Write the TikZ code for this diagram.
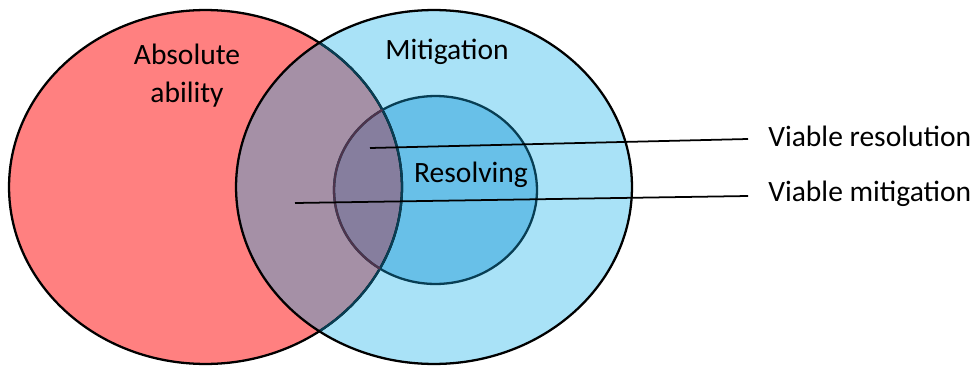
\documentclass[tikz,border=0pt]{standalone}
\usepackage{fontspec}
\setmainfont{Carlito}
\definecolor{absred}{RGB}{255,128,128}
\definecolor{mitblue}{RGB}{169,226,247}
\definecolor{resblue}{RGB}{104,192,232}
\definecolor{mixmit}{RGB}{165,144,166}
\definecolor{mixres}{RGB}{134,126,158}
\definecolor{rimteal}{RGB}{8,62,84}
\definecolor{rimplum}{RGB}{78,52,76}

\begin{document}
\begin{tikzpicture}[x=0.02cm,y=-0.02cm,
    lbl/.style={font=\fontsize{16.8}{21.5}\selectfont, inner sep=0pt},
    rim/.style={line width=1.3pt},
    pointer/.style={line width=1pt},
    absE/.style={insert path={(absC) ellipse [x radius=3.93cm, y radius=3.54cm]}},
    mitE/.style={insert path={(mitC) ellipse [x radius=3.96cm, y radius=3.54cm]}},
    resE/.style={insert path={(resC) ellipse [x radius=2.03cm, y radius=1.88cm]}}]
    \useasboundingbox (0,0) rectangle (973,365);
    \coordinate (absC) at (205.5,187);
    \coordinate (mitC) at (434,187);
    \coordinate (resC) at (435.5,190);

    \fill[absred, absE];
    \fill[mitblue, mitE];
    \fill[resblue, resE];
    \begin{scope}
        \clip[absE];
        \fill[mixmit, mitE];
        \fill[mixres, resE];
    \end{scope}

    \draw[rim, absE];
    \begin{scope}
        \clip[mitE];
        \draw[rim, rimteal, absE];
    \end{scope}
    \draw[rim, rimteal, resE];
    \begin{scope}
        \clip[absE];
        \draw[rim, rimplum, resE];
    \end{scope}
    \draw[rim, mitE];

    \node[lbl, align=center] (absT) at (187,76) {Absolute\\ability};
    \node[lbl] (mitT) at (447,52) {Mitigation};
    \node[lbl] (resT) at (471,175) {Resolving};
    \node[lbl, anchor=west] (vresT) at (768,136) {Viable resolution};
    \node[lbl, anchor=west] (vmitT) at (768,194) {Viable mitigation};

    \coordinate (vresP) at (370,148);
    \coordinate (vmitP) at (295,203);
    \draw[pointer] (vresP) -- ([xshift=-0.4cm, yshift=-0.06cm]vresT.west);
    \draw[pointer] (vmitP) -- ([xshift=-0.4cm, yshift=-0.04cm]vmitT.west);
\end{tikzpicture}
\end{document}
